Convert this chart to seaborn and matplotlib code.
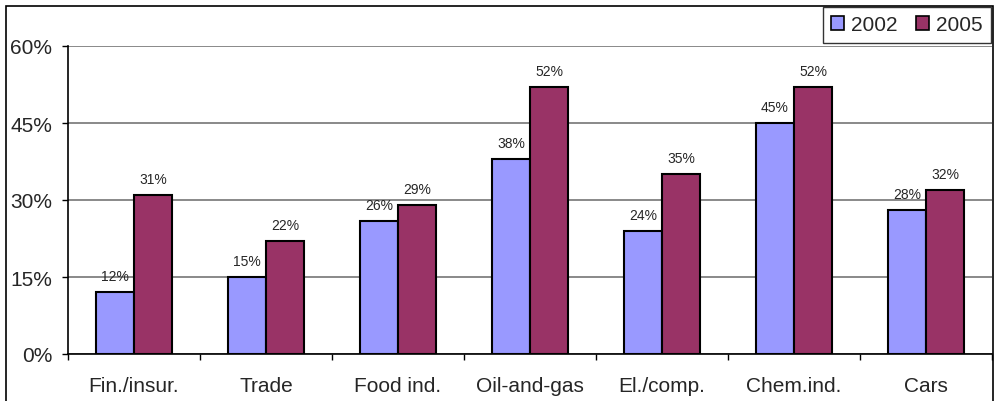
import matplotlib
matplotlib.use("Agg")
import matplotlib.pyplot as plt
import matplotlib.patches as mpatches
import seaborn as sns
import pandas as pd
from matplotlib.ticker import FuncFormatter, FixedLocator

sectors = ["Fin./insur.", "Trade", "Food ind.", "Oil-and-gas", "El./comp.", "Chem.ind.", "Cars"]
share_2002 = [12, 15, 26, 38, 24, 45, 28]
share_2005 = [31, 22, 29, 52, 35, 52, 32]
years = ["2002", "2005"]
colors = {"2002": "#9999FF", "2005": "#993366"}

df = pd.DataFrame({
    "sector": sectors * 2,
    "year": ["2002"] * len(sectors) + ["2005"] * len(sectors),
    "share": share_2002 + share_2005,
})

sns.set_style("white")
plt.rcParams["font.family"] = ["Liberation Sans", "DejaVu Sans"]

fig = plt.figure(figsize=(9.97, 4.02), dpi=100)
ax = fig.add_axes([68 / 997, 47 / 402, (992 - 68) / 997, (355 - 47) / 402])

sns.barplot(data=df, x="sector", y="share", hue="year", order=sectors,
            hue_order=years, palette=colors, width=0.58, edgecolor="black",
            linewidth=1.5, saturation=1, legend=False, ax=ax)

for cont in ax.containers:
    ax.bar_label(cont, labels=[f"{v:.0f}%" for v in cont.datavalues],
                 padding=6.5, fontsize=10)

ax.set_ylim(0, 60)
ax.set_xlim(-0.5, len(sectors) - 0.5)
ax.set_yticks([0, 15, 30, 45, 60])
ax.yaxis.set_major_formatter(FuncFormatter(lambda v, _: f"{v:.0f}%"))
ax.yaxis.grid(True, color="#808080", linewidth=1.3)
ax.set_axisbelow(True)
ax.set_xlabel("")
ax.set_ylabel("")

# category boundaries carry the x tick marks, labels sit at category centres
ax.xaxis.set_major_locator(FixedLocator([i - 0.5 for i in range(len(sectors) + 1)]))
ax.xaxis.set_minor_locator(FixedLocator(list(range(len(sectors)))))
ax.xaxis.set_major_formatter(FuncFormatter(lambda v, _: ""))
ax.set_xticklabels(sectors, minor=True)
ax.tick_params(axis="x", which="major", direction="out", length=4.5, width=1, color="black", bottom=True)
ax.tick_params(axis="x", which="minor", length=0, labelsize=15, pad=16)
ax.tick_params(axis="y", direction="out", length=4.5, width=1, color="black", left=True,
               labelsize=15, pad=7)

for side in ["top", "right"]:
    ax.spines[side].set_visible(False)
for side in ["left", "bottom"]:
    ax.spines[side].set_color("black")
    ax.spines[side].set_linewidth(1.2)

handles = [mpatches.Patch(facecolor=colors[y], edgecolor="black", linewidth=1.2, label=y)
           for y in years]
leg = fig.legend(handles=handles, loc="upper right", ncol=2,
                 bbox_to_anchor=(991 / 997, (402 - 8) / 402),
                 frameon=True, fancybox=False, fontsize=15,
                 handlelength=0.6, handleheight=0.6, handletextpad=0.35,
                 columnspacing=0.9, borderpad=0.4, borderaxespad=0)
leg.get_frame().set_edgecolor("black")
leg.get_frame().set_linewidth(1.0)

# outer chart frame
fig.patches.append(mpatches.Rectangle((6 / 997, -0.05), (993 - 6) / 997, (402 - 7) / 402 + 0.05,
                                      transform=fig.transFigure, fill=False,
                                      edgecolor="black", linewidth=1.2, zorder=-1))

fig.savefig("out.png", dpi=100)
